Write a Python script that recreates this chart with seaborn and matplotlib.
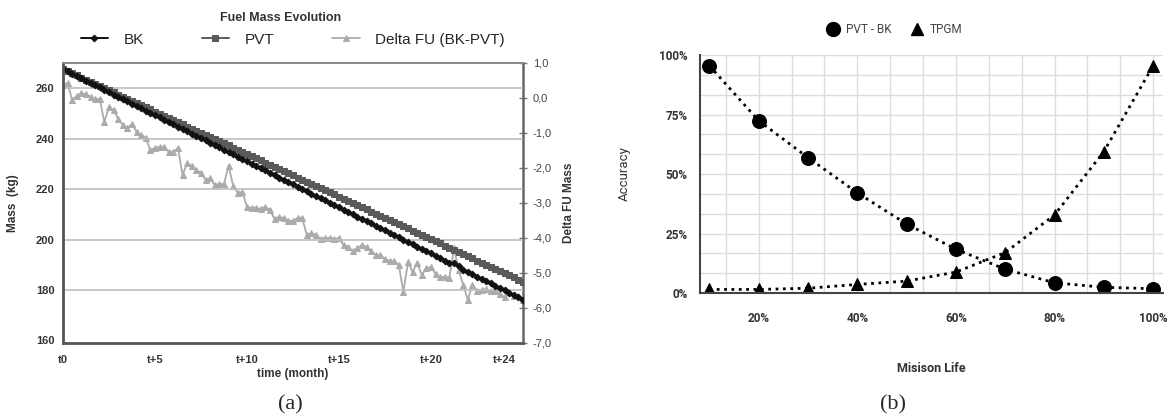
import numpy as np
import matplotlib
matplotlib.use("Agg")
import matplotlib.pyplot as plt
from matplotlib.ticker import MultipleLocator, FuncFormatter
from matplotlib.lines import Line2D
import seaborn as sns

# ---- (a) Fuel mass evolution (quarter-month samples over 25 months) ----
time = np.arange(101) * 0.25
bk = [267.6, 266.7, 265.8, 264.9, 263.9, 263.0, 262.1, 261.2, 260.3, 259.4,
      258.5, 257.5, 256.6, 255.7, 254.8, 253.9, 253.0, 252.1, 251.1, 250.2,
      249.3, 248.4, 247.5, 246.6, 245.7, 244.8, 243.8, 242.9, 242.0, 241.1,
      240.2, 239.3, 238.4, 237.4, 236.5, 235.6, 234.7, 233.8, 232.9, 232.0,
      231.0, 230.1, 229.2, 228.3, 227.4, 226.5, 225.6, 224.6, 223.7, 222.8,
      221.9, 221.0, 220.1, 219.2, 218.2, 217.3, 216.4, 215.5, 214.6, 213.7,
      212.8, 211.8, 210.9, 210.0, 209.1, 208.2, 207.3, 206.4, 205.4, 204.5,
      203.6, 202.7, 201.8, 200.9, 200.0, 199.1, 198.1, 197.2, 196.3, 195.4,
      194.5, 193.6, 192.7, 191.7, 190.8, 190.6, 189.4, 188.1, 187.2, 186.3,
      185.3, 184.4, 183.5, 182.6, 181.7, 180.8, 179.9, 178.9, 178.0, 177.1,
      176.2]
pvt = [267.6, 266.8, 265.9, 265.1, 264.2, 263.4, 262.5, 261.7, 260.9, 260.0,
       259.2, 258.3, 257.5, 256.6, 255.8, 255.0, 254.1, 253.3, 252.4, 251.6,
       250.7, 249.9, 249.1, 248.2, 247.4, 246.5, 245.7, 244.8, 244.0, 243.2,
       242.3, 241.5, 240.6, 239.8, 238.9, 238.1, 237.3, 236.4, 235.6, 234.7,
       233.9, 233.0, 232.2, 231.4, 230.5, 229.7, 228.8, 228.0, 227.1, 226.3,
       225.5, 224.6, 223.8, 222.9, 222.1, 221.2, 220.4, 219.5, 218.7, 217.9,
       217.0, 216.2, 215.3, 214.5, 213.6, 212.8, 212.0, 211.1, 210.3, 209.4,
       208.6, 207.7, 206.9, 206.1, 205.2, 204.4, 203.5, 202.7, 201.8, 201.0,
       200.2, 199.3, 198.5, 197.6, 196.8, 195.9, 195.1, 194.3, 193.4, 192.6,
       191.7, 190.9, 190.0, 189.2, 188.4, 187.5, 186.7, 185.8, 185.0, 184.1,
       183.3]
delta_fu = [0.37, 0.43, -0.06, 0.06, 0.14, 0.11, 0.03, -0.03, -0.03, -0.69,
            -0.26, -0.34, -0.60, -0.77, -0.86, -0.74, -0.97, -1.06, -1.14, -1.49,
            -1.43, -1.40, -1.40, -1.54, -1.54, -1.43, -2.20, -1.86, -1.94, -2.06,
            -2.14, -2.34, -2.29, -2.49, -2.46, -2.46, -1.94, -2.51, -2.71, -2.69,
            -3.11, -3.14, -3.14, -3.17, -3.11, -3.20, -3.46, -3.40, -3.43, -3.51,
            -3.51, -3.43, -3.43, -3.91, -3.86, -3.91, -4.03, -4.00, -4.00, -4.03,
            -4.00, -4.20, -4.26, -4.37, -4.29, -4.20, -4.26, -4.37, -4.49, -4.49,
            -4.60, -4.66, -4.66, -4.77, -5.54, -4.69, -4.97, -4.71, -5.06, -4.86,
            -4.83, -5.03, -5.11, -5.11, -5.14, -4.29, -4.91, -5.34, -5.77, -5.34,
            -5.51, -5.49, -5.46, -5.51, -5.51, -5.60, -5.69, -5.54, -5.66, -5.66,
            -5.77]
time_ticks = [0, 5, 10, 15, 20, 24]
time_labels = ["t0", "t+5", "t+10", "t+15", "t+20", "t+24"]
mass_ticks = [160, 180, 200, 220, 240, 260]
delta_ticks = [1, 0, -1, -2, -3, -4, -5, -6, -7]

# ---- (b) Accuracy vs mission life ----
life = [10, 20, 30, 40, 50, 60, 70, 80, 90, 100]
pvt_bk = [95.5, 72.4, 56.9, 42.1, 29.0, 18.4, 10.0, 4.3, 2.4, 1.8]
tpgm = [1.5, 1.5, 2.0, 3.6, 5.0, 8.8, 17.0, 32.8, 59.4, 95.5]

sns.set_style("white")
plt.rcParams['font.family'] = ['Liberation Sans', 'DejaVu Sans']

fig = plt.figure(figsize=(11.7, 4.19), dpi=100)

# ------------------------- panel (a) -------------------------
ax1 = fig.add_axes([0.0538, 0.1814, 0.3932, 0.6683])
ax2 = ax1.twinx()
ax1.set_zorder(ax2.get_zorder() + 1)
ax1.patch.set_visible(False)

sns.lineplot(x=time, y=delta_fu, ax=ax2, color="#ababab", marker="^",
             markersize=4.5, markeredgecolor="#ababab", linewidth=1.3, label="Delta FU (BK-PVT)")
sns.lineplot(x=time, y=pvt, ax=ax1, color="#5a5a5a", marker="s",
             markersize=4.0, markeredgecolor="#5a5a5a", linewidth=1.4, label="PVT")
sns.lineplot(x=time, y=bk, ax=ax1, color="#111111", marker="D",
             markersize=3.4, markeredgecolor="#111111", linewidth=1.4, label="BK")

ax1.set_xlim(0, 25)
ax1.set_ylim(159, 270)
ax2.set_ylim(-7, 1)
ax1.set_xticks(time_ticks)
ax1.set_xticklabels(time_labels)
ax1.set_yticks(mass_ticks)
ax2.set_yticks(delta_ticks)
ax2.yaxis.set_major_formatter(FuncFormatter(lambda v, p: f"{v:.1f}".replace(".", ",")))
for y in mass_ticks[1:]:
    ax1.axhline(y, color="#bdbdbd", linewidth=1.2, zorder=0)

for lab in ax1.get_xticklabels() + ax1.get_yticklabels():
    lab.set_fontweight("bold")
    lab.set_fontsize(8)
    lab.set_color("#333333")
for lab in ax2.get_yticklabels():
    lab.set_fontsize(8)
    lab.set_color("#444444")

ax1.tick_params(axis="x", direction="inout", length=5, width=1.2, color="#555555", pad=6)
ax1.tick_params(axis="y", length=0, pad=6)
ax2.tick_params(axis="y", direction="inout", length=6, width=1, color="#777777", pad=4)

for s in ("left", "bottom"):
    ax1.spines[s].set_color("#555555")
    ax1.spines[s].set_linewidth(2)
ax2.spines["right"].set_color("#666666")
ax2.spines["right"].set_linewidth(1.8)
ax2.spines["left"].set_visible(False)
ax2.spines["bottom"].set_visible(False)
for ax in (ax1, ax2):
    ax.spines["top"].set_color("#888888")
    ax.spines["top"].set_linewidth(1.2)
ax1.spines["right"].set_visible(False)

ax1.set_xlabel("time (month)", fontsize=8.5, fontweight="bold", color="#333333", labelpad=2)
ax1.set_ylabel("Mass  (kg)", fontsize=8.5, fontweight="bold", color="#333333", labelpad=12)
ax2.set_ylabel("Delta FU Mass", fontsize=8.5, fontweight="bold", color="#333333", labelpad=8)

h1, l1 = ax1.get_legend_handles_labels()
h2, l2 = ax2.get_legend_handles_labels()
ax1.get_legend().remove()
ax2.get_legend().remove()
handles = [h1[1], h1[0], h2[0]]
labels = ["BK", "PVT", "Delta FU (BK-PVT)"]
fig.legend(handles, labels, loc="center", bbox_to_anchor=(0.25, 0.905), ncol=3,
           frameon=False, fontsize=11, handlelength=1.8, columnspacing=3.8,
           handletextpad=1.0)
fig.text(0.24, 0.957, "Fuel Mass Evolution", ha="center", va="center",
         fontsize=9, fontweight="bold", color="#333333")
fig.text(0.248, 0.033, "(a)", ha="center", va="center", fontsize=16,
         family=["Liberation Serif", "DejaVu Serif"])

# ------------------------- panel (b) -------------------------
ax3 = fig.add_axes([0.5983, 0.3007, 0.3957, 0.568])
sns.lineplot(x=life, y=pvt_bk, ax=ax3, color="black", marker="o", markersize=10,
             markeredgecolor="black", linestyle=":", linewidth=2, legend=False)
sns.lineplot(x=life, y=tpgm, ax=ax3, color="black", marker="^", markersize=8,
             markeredgecolor="black", linestyle=":", linewidth=2, legend=False)
ax3.set_xlim(8.1, 102)
ax3.set_ylim(0, 100)
ax3.xaxis.set_major_locator(MultipleLocator(20))
ax3.xaxis.set_minor_locator(MultipleLocator(20 / 3))
ax3.yaxis.set_major_locator(MultipleLocator(25))
ax3.yaxis.set_minor_locator(MultipleLocator(25 / 3))
pct = FuncFormatter(lambda v, p: f"{v:.0f}%")
ax3.xaxis.set_major_formatter(pct)
ax3.yaxis.set_major_formatter(pct)
ax3.grid(True, which="both", color="#dddddd", linewidth=1)
ax3.set_axisbelow(True)
for s in ("top", "right"):
    ax3.spines[s].set_visible(False)
for s in ("left", "bottom"):
    ax3.spines[s].set_color("#444444")
    ax3.spines[s].set_linewidth(1.5)
ax3.tick_params(axis="y", which="major", direction="out", length=6, width=1.5, color="#444444", pad=3)
ax3.tick_params(axis="y", which="minor", length=0)
ax3.tick_params(axis="x", which="major", length=0, pad=14)
ax3.tick_params(axis="x", which="minor", direction="inout", length=7, width=1.3, color="#444444")
for lab in ax3.get_xticklabels() + ax3.get_yticklabels():
    lab.set_family(["Roboto", "DejaVu Sans"])
    lab.set_fontweight("bold")
    lab.set_fontsize(8.5)
    lab.set_color("#333333")
ax3.set_xlabel("Misison Life", fontsize=9, fontweight="bold", color="#333333",
               family=["Roboto", "DejaVu Sans"], labelpad=26)
ax3.set_ylabel("Accuracy", fontsize=9.5, color="#333333",
               family=["Roboto", "DejaVu Sans"], labelpad=20)
h3 = [Line2D([], [], color="black", marker="o", markersize=10, linestyle="none"),
      Line2D([], [], color="black", marker="^", markersize=8, linestyle="none")]
fig.legend(h3, ["PVT - BK", "TPGM"], loc="center", bbox_to_anchor=(0.765, 0.93), ncol=2,
           frameon=False, prop={"family": ["Roboto", "DejaVu Sans"], "size": 8.5},
           labelcolor="#444444", handlelength=1.0, columnspacing=1.6, handletextpad=0.6)
fig.text(0.763, 0.033, "(b)", ha="center", va="center", fontsize=16,
         family=["Liberation Serif", "DejaVu Serif"])

fig.savefig("out.png", dpi=100)
